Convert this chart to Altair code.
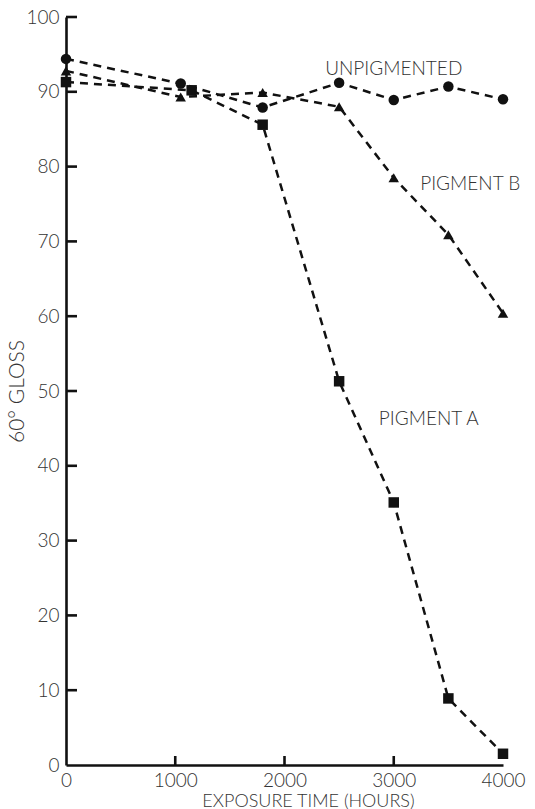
import altair as alt
import pandas as pd

# Gloss retention (60° gloss) versus exposure time
unpig_hours = [0, 1050, 1800, 2500, 3000, 3500, 4000]
unpig_gloss = [94.4, 91.1, 87.9, 91.2, 88.9, 90.7, 89.0]

pig_b_hours = [0, 1050, 1800, 2500, 3000, 3500, 4000]
pig_b_gloss = [92.8, 89.3, 89.9, 88.0, 78.5, 70.9, 60.4]

pig_a_hours = [0, 1150, 1800, 2500, 3000, 3500, 4000]
pig_a_gloss = [91.3, 90.2, 85.6, 51.3, 35.1, 8.9, 1.5]

series_names = ["UNPIGMENTED", "PIGMENT B", "PIGMENT A"]
series_shapes = ["circle", "triangle-up", "square"]

label_text = ["UNPIGMENTED", "PIGMENT B", "PIGMENT A"]
label_hours = [3000, 3700, 3320]
label_gloss = [93.0, 77.7, 46.3]

y_ticks = [10, 20, 30, 40, 50, 60, 70, 80, 90, 100]
x_ticks = [1000, 2000, 3000]

rows = []
for name, hrs, vals in [
    ("UNPIGMENTED", unpig_hours, unpig_gloss),
    ("PIGMENT B", pig_b_hours, pig_b_gloss),
    ("PIGMENT A", pig_a_hours, pig_a_gloss),
]:
    for h, g in zip(hrs, vals):
        rows.append({"series": name, "hours": h, "gloss": g})
df = pd.DataFrame(rows)

labels = pd.DataFrame({"text": label_text, "hours": label_hours, "gloss": label_gloss})
yt = pd.DataFrame({"v": y_ticks})
xt = pd.DataFrame({"v": x_ticks})

FONT = "Lato"
INK = "#111111"
TXT = "#333333"

W, H = 437, 748

x_scale = alt.Scale(domain=[0, 4000], nice=False, zero=False)
y_scale = alt.Scale(domain=[0, 100], nice=False)

x_enc = alt.X(
    "hours:Q", scale=x_scale,
    axis=alt.Axis(
        title="EXPOSURE TIME (HOURS)", values=[0, 1000, 2000, 3000, 4000],
        format="d", ticks=False, labelPadding=6, labelFontSize=19,
        labelFont=FONT, labelFontWeight=300, labelColor=TXT,
        domainColor=INK, domainWidth=2.6, grid=False,
        titleFont=FONT, titleFontWeight=300, titleFontSize=18, titleColor=TXT,
        titleX=242, titleY=41, titleBaseline="alphabetic", titleAlign="center",
        labelFlush=False,
    ),
)
y_enc = alt.Y(
    "gloss:Q", scale=y_scale,
    axis=alt.Axis(
        title="60° GLOSS", values=[0, 10, 20, 30, 40, 50, 60, 70, 80, 90, 100],
        ticks=False, labelPadding=7, labelFontSize=19,
        labelFont=FONT, labelFontWeight=300, labelColor=TXT,
        domainColor=INK, domainWidth=2.6, grid=False,
        titleFont=FONT, titleFontWeight=300, titleFontSize=21, titleColor=TXT,
        titleX=-49, titleY=374, titleBaseline="middle", titleAlign="center",
    ),
)

shape_enc = alt.Shape(
    "series:N",
    scale=alt.Scale(domain=series_names, range=series_shapes),
    legend=None,
)

lines = alt.Chart(df).mark_line(
    color=INK, strokeWidth=2.5, strokeDash=[8, 6]
).encode(x=x_enc, y=y_enc, detail="series:N", order="hours:Q")

points = alt.Chart(df).mark_point(
    filled=True, color=INK, opacity=1, size=110
).encode(x="hours:Q", y="gloss:Q", shape=shape_enc)

text = alt.Chart(labels).mark_text(
    font=FONT, fontWeight=300, fontSize=19, color=TXT, align="center", baseline="middle"
).encode(x="hours:Q", y="gloss:Q", text="text:N")

ytick_marks = alt.Chart(yt).mark_rule(color=INK, strokeWidth=2.6).encode(
    y=alt.Y("v:Q", scale=y_scale), x=alt.value(0), x2=alt.value(11)
)
xtick_marks = alt.Chart(xt).mark_rule(color=INK, strokeWidth=2.6).encode(
    x=alt.X("v:Q", scale=x_scale), y=alt.value(H), y2=alt.value(H - 9)
)

chart = alt.layer(lines, ytick_marks, xtick_marks, points, text).properties(
    width=W, height=H,
    padding={"left": 66, "top": 17, "right": 32, "bottom": 44},
    autosize=alt.AutoSizeParams(type="none"),
    background="white",
).configure_view(stroke=None)

chart.save("out.html", embed_options={"renderer": "svg", "actions": False})
